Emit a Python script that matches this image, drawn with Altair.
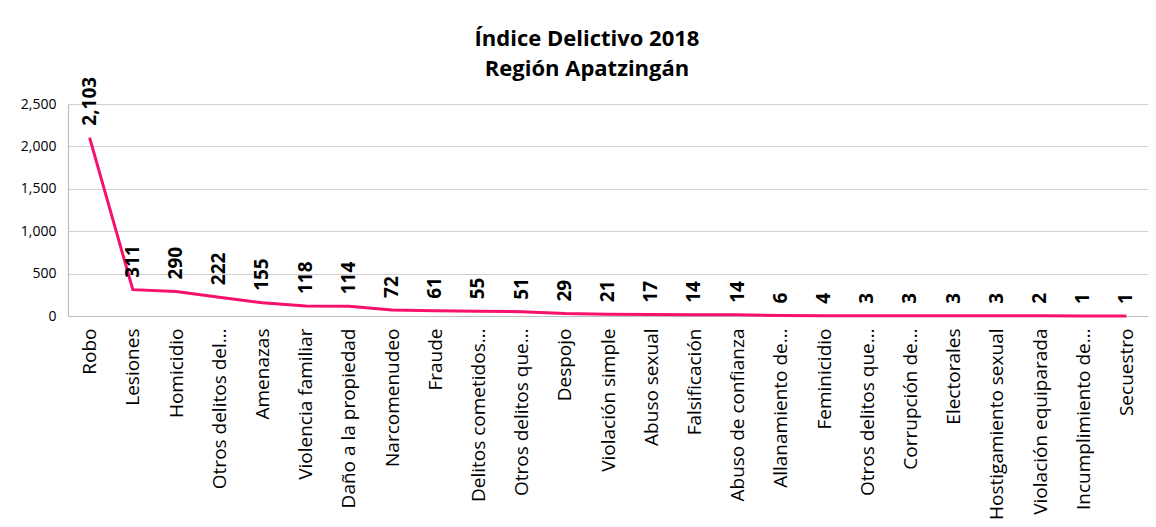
import altair as alt
import pandas as pd
import json

categories = ["Robo", "Lesiones", "Homicidio", "Otros delitos del…", "Amenazas",
              "Violencia familiar", "Daño a la propiedad", "Narcomenudeo", "Fraude",
              "Delitos cometidos…", "Otros delitos que…", "Despojo", "Violación simple",
              "Abuso sexual", "Falsificación", "Abuso de confianza", "Allanamiento de…",
              "Feminicidio", "Otros delitos que…", "Corrupción de…", "Electorales",
              "Hostigamiento sexual", "Violación equiparada", "Incumplimiento de…", "Secuestro"]
values = [2103, 311, 290, 222, 155, 118, 114, 72, 61, 55, 51, 29, 21, 17, 14, 14,
          6, 4, 3, 3, 3, 3, 2, 1, 1]
y_ticks = [0, 500, 1000, 1500, 2000, 2500]

df = pd.DataFrame({"i": list(range(len(categories))), "cat": categories, "v": values})

FONT = "Open Sans"
label_expr = json.dumps(categories, ensure_ascii=False) + "[datum.value]"

x = alt.X("i:O", scale=alt.Scale(type="point", padding=0.5),
          axis=alt.Axis(title=None, labelExpr=label_expr, labelAngle=-90, labelAlign="right",
                        labelBaseline="middle", labelFontSize=19, labelFont=FONT,
                        labelColor="#000000", ticks=False, labelPadding=12,
                        domainColor="#BFBFBF", domainWidth=1.2, labelOverlap=False,
                        labelLimit=400))
y = alt.Y("v:Q", scale=alt.Scale(domain=[0, 2500], nice=False),
          axis=alt.Axis(title=None, values=y_ticks, format=",.0f", labelFontSize=14,
                        labelFont=FONT, labelColor="#000000", ticks=False, labelPadding=12,
                        gridColor="#D0D0D0", domainColor="#BFBFBF", domainWidth=1.2))

line = alt.Chart(df).mark_line(color="#F7106C", strokeWidth=3).encode(x=x, y=y)
labels = alt.Chart(df).mark_text(angle=270, align="left", baseline="middle", dx=12,
                                 fontSize=19, fontWeight="bold", font=FONT,
                                 color="#000000").encode(
    x=x, y=y, text=alt.Text("v:Q", format=",.0f"))

chart = (line + labels).properties(
    width=1080, height=212,
    title=alt.TitleParams(["Índice Delictivo 2018", "Región Apatzingán"], font=FONT,
                          fontSize=22, fontWeight="bold", color="#000000", anchor="middle",
                          dx=-21, offset=-4, lineHeight=30),
    autosize=alt.AutoSizeParams(type="none"),
    padding={"left": 60, "top": 96, "right": 0, "bottom": 203},
).configure_view(stroke=None).configure(background="white")

chart.save("out.html", embed_options={"renderer": "svg", "actions": False})
